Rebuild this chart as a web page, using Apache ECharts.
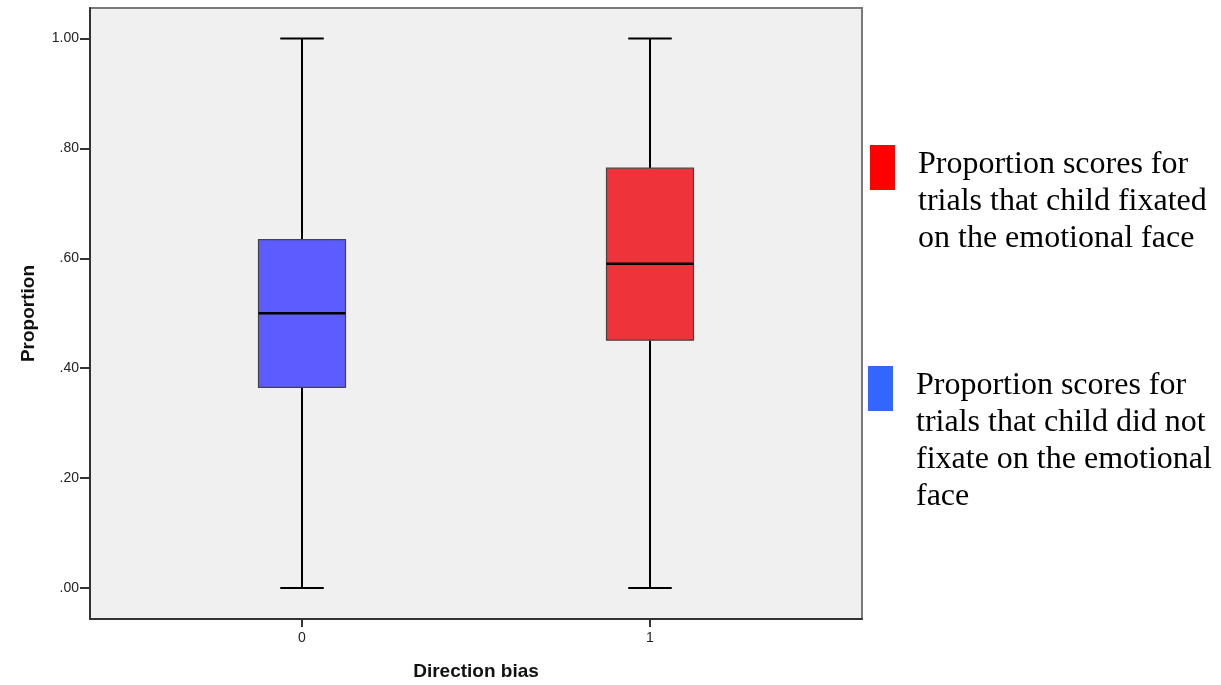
<!DOCTYPE html>
<html>
<head>
<meta charset="utf-8">
<script src="https://cdn.jsdelivr.net/npm/echarts@6/dist/echarts.min.js"></script>
<style>
html,body{margin:0;padding:0;background:#fff;}
#chart{width:1221px;height:685px;}
</style>
</head>
<body>
<div id="chart"></div>
<script>
// ---- data ----
const categories = ['0', '1'];
const whiskerLow = [0.00, 0.00];
const q1 = [0.365, 0.451];
const median = [0.500, 0.590];
const q3 = [0.634, 0.764];
const whiskerHigh = [1.00, 1.00];
const yTickLabels = ['.00', '.20', '.40', '.60', '.80', '1.00'];
const legendLabels = [
  'Proportion scores for\ntrials that child fixated\non the emotional face',
  'Proportion scores for\ntrials that child did not\nfixate on the emotional\nface'
];
const boxColors = ['#5c5cff', '#ef333a'];
const legendColors = ['#ff0000', '#3366ff'];

const seriesData = categories.map((c, i) => [i, whiskerLow[i], q1[i], median[i], q3[i], whiskerHigh[i]]);

const chart = echarts.init(document.getElementById('chart'));

function renderBox(params, api) {
  const idx = api.value(0);
  const band = api.size([1, 0])[0];
  const boxW = band * 0.25;
  const capW = boxW * 0.5;
  const pLow = api.coord([idx, api.value(1)]);
  const pQ1 = api.coord([idx, api.value(2)]);
  const pMed = api.coord([idx, api.value(3)]);
  const pQ3 = api.coord([idx, api.value(4)]);
  const pHigh = api.coord([idx, api.value(5)]);
  const cx = pMed[0];
  const lineStyle = { stroke: '#000', lineWidth: 2 };
  return {
    type: 'group',
    children: [
      { type: 'line', shape: { x1: cx, y1: pLow[1], x2: cx, y2: pQ1[1] }, style: lineStyle },
      { type: 'line', shape: { x1: cx, y1: pQ3[1], x2: cx, y2: pHigh[1] }, style: lineStyle },
      { type: 'line', shape: { x1: cx - capW / 2, y1: pLow[1], x2: cx + capW / 2, y2: pLow[1] }, style: lineStyle },
      { type: 'line', shape: { x1: cx - capW / 2, y1: pHigh[1], x2: cx + capW / 2, y2: pHigh[1] }, style: lineStyle },
      { type: 'rect', shape: { x: cx - boxW / 2, y: pQ3[1], width: boxW, height: pQ1[1] - pQ3[1] },
        style: { fill: boxColors[idx], stroke: '#444', lineWidth: 1.2 } },
      { type: 'line', shape: { x1: cx - boxW / 2, y1: pMed[1], x2: cx + boxW / 2, y2: pMed[1] },
        style: { stroke: '#000', lineWidth: 2.5 } }
    ]
  };
}

const option = {
  animation: false,
  backgroundColor: '#fff',
  grid: [
    { left: 90, right: 359, top: 8, bottom: 66, show: true, backgroundColor: '#f0f0f0', borderColor: '#7a7a7a', borderWidth: 2, outerBoundsMode: 'none', containLabel: false },
    { left: 128, right: 397, top: 38.5, bottom: 97, outerBoundsMode: 'none', containLabel: false },
    { left: 128, right: 397, top: 8, bottom: 66, outerBoundsMode: 'none', containLabel: false }
  ],
  xAxis: [
    {
      gridIndex: 0, type: 'value', min: 0, max: 1,
      axisLine: { show: true, lineStyle: { color: '#333', width: 2 } },
      axisTick: { show: false }, axisLabel: { show: false }, splitLine: { show: false },
      name: 'Direction bias', nameLocation: 'middle', nameGap: 43,
      nameTextStyle: { fontFamily: 'Liberation Sans', fontWeight: 'bold', fontSize: 19, color: '#111' }
    },
    {
      gridIndex: 1, type: 'category', data: categories, boundaryGap: true, show: false
    },
    {
      gridIndex: 2, type: 'category', data: categories, boundaryGap: true,
      axisLine: { show: false },
      axisTick: { show: true, alignWithLabel: true, length: 8, lineStyle: { color: '#333', width: 2 } },
      axisLabel: { margin: 12, fontFamily: 'Liberation Sans', fontSize: 14, color: '#222' },
      splitLine: { show: false }
    }
  ],
  yAxis: [
    {
      gridIndex: 0, type: 'value', min: 0, max: 1,
      axisLine: { show: true, lineStyle: { color: '#333', width: 2 } },
      axisTick: { show: false }, axisLabel: { show: false }, splitLine: { show: false },
      name: 'Proportion', nameLocation: 'middle', nameGap: 52,
      nameTextStyle: { fontFamily: 'Liberation Sans', fontWeight: 'bold', fontSize: 19, color: '#111' }
    },
    {
      gridIndex: 1, type: 'value', min: 0, max: 1, interval: 0.2, offset: 38,
      axisLine: { show: false },
      axisTick: { show: true, length: 10, lineStyle: { color: '#333', width: 2 } },
      axisLabel: { margin: 11, fontFamily: 'Liberation Sans', fontSize: 14, color: '#222',
        formatter: (v, i) => yTickLabels[i] },
      splitLine: { show: false }
    },
    {
      gridIndex: 2, type: 'value', min: 0, max: 1, show: false
    }
  ],
  series: [{
    type: 'custom',
    xAxisIndex: 1, yAxisIndex: 1,
    renderItem: renderBox,
    encode: { x: 0, y: [1, 2, 3, 4, 5] },
    data: seriesData
  }],
  graphic: [
    { type: 'rect', shape: { x: 870, y: 145, width: 25, height: 45 }, style: { fill: legendColors[0] } },
    { type: 'text', x: 918, y: 146.5, style: { text: legendLabels[0], font: '32px "Liberation Serif"', fill: '#000', lineHeight: 37, verticalAlign: 'top' } },
    { type: 'rect', shape: { x: 868, y: 366, width: 25, height: 45 }, style: { fill: legendColors[1] } },
    { type: 'text', x: 916, y: 366.5, style: { text: legendLabels[1], font: '32px "Liberation Serif"', fill: '#000', lineHeight: 37.3, verticalAlign: 'top' } }
  ]
};
chart.setOption(option);
</script>
</body>
</html>
